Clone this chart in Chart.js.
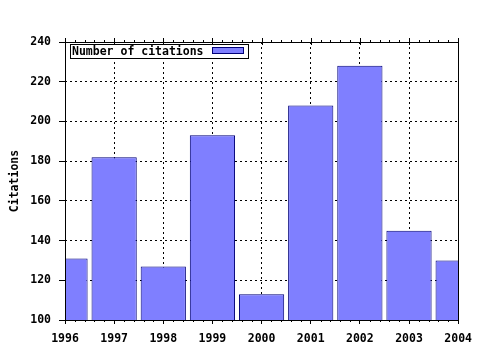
<!DOCTYPE html>
<html>
<head>
<meta charset="utf-8">
<script src="https://cdn.jsdelivr.net/npm/chart.js@4/dist/chart.umd.min.js"></script>
<style>
html,body{margin:0;padding:0;background:#fff;}
#wrap{width:480px;height:350px;}
</style>
</head>
<body>
<div id="wrap"><canvas id="chart" width="480" height="350"></canvas></div>
<script>
// data
const years = [1996, 1997, 1998, 1999, 2000, 2001, 2002, 2003, 2004];
const citations = [131, 182, 127, 193, 113, 208, 228, 145, 130];
const yTicks = [100, 120, 140, 160, 180, 200, 220, 240];
const seriesLabel = 'Number of citations';

const FONT = {family: '"DejaVu Sans Mono", monospace', size: 11.5, weight: 'bold'};
const fill = '#7f7fff', edge = '#000078';

// frame, minor ticks, top ticks and the boxed legend
const decor = {
  id: 'decor',
  afterDatasetsDraw(chart) {
    const ctx = chart.ctx, a = chart.chartArea;
    const xs = chart.scales.x;
    ctx.save();
    ctx.strokeStyle = '#000';
    ctx.lineWidth = 1;
    ctx.setLineDash([]);
    ctx.strokeRect(Math.round(a.left) + 0.5, Math.round(a.top) + 0.5,
      Math.round(a.right - a.left), Math.round(a.bottom - a.top));
    ctx.beginPath();
    for (let i = 0; i < years.length; i++) {
      const px = Math.round(xs.getPixelForValue(years[i])) + 0.5;
      ctx.moveTo(px, a.top - 4); ctx.lineTo(px, a.top + 3);
      if (i < years.length - 1) {
        for (let k = 1; k < 5; k++) {
          const mx = Math.round(xs.getPixelForValue(years[i] + k / 5)) + 0.5;
          ctx.moveTo(mx, a.top - 2); ctx.lineTo(mx, a.top);
          ctx.moveTo(mx, a.bottom); ctx.lineTo(mx, a.bottom + 2);
        }
      }
    }
    ctx.stroke();
    // legend box
    const lx = 70.5, ly = 44.5, lw = 178, lh = 14;
    ctx.fillStyle = '#fff';
    ctx.fillRect(lx, ly, lw, lh);
    ctx.strokeRect(lx, ly, lw, lh);
    ctx.fillStyle = '#000';
    ctx.font = `${FONT.weight} ${FONT.size}px ${FONT.family}`;
    ctx.textBaseline = 'middle';
    ctx.fillText(chart.data.datasets[0].label, 72, ly + lh / 2 + 0.5);
    ctx.fillStyle = fill;
    ctx.fillRect(212.5, 47.5, 31, 6);
    ctx.strokeStyle = edge;
    ctx.strokeRect(212.5, 47.5, 31, 6);
    ctx.restore();
  }
};

new Chart(document.getElementById('chart'), {
  type: 'bar',
  data: {
    datasets: [{
      label: seriesLabel,
      data: years.map((y, i) => ({x: y, y: citations[i]})),
      backgroundColor: fill,
      borderColor: edge,
      borderWidth: 1,
      borderSkipped: false,
      categoryPercentage: 1,
      barPercentage: 0.92
    }]
  },
  options: {
    responsive: false,
    animation: false,
    events: [],
    layout: {padding: {left: 0, right: 21, top: 42, bottom: 0}},
    plugins: {legend: {display: false}, tooltip: {enabled: false}},
    scales: {
      x: {
        type: 'linear',
        offset: false,
        min: years[0],
        max: years[years.length - 1],
        afterBuildTicks: s => { s.ticks = years.map(v => ({value: v})); },
        afterFit: s => { s.height = 30; },
        ticks: {color: '#000', font: FONT, padding: 8, maxRotation: 0, autoSkip: false,
          callback: v => String(v)},
        grid: {offset: false, color: '#000', lineWidth: 1, tickLength: 4, tickColor: '#000', tickBorderDash: []},
        border: {display: false, dash: [2, 3]}
      },
      y: {
        min: yTicks[0],
        max: yTicks[yTicks.length - 1],
        afterBuildTicks: s => { s.ticks = yTicks.map(v => ({value: v})); },
        afterFit: s => { s.width = 65; },
        ticks: {color: '#000', font: FONT, padding: 8},
        grid: {color: '#000', lineWidth: 1, tickLength: 6, tickColor: '#000', tickBorderDash: []},
        border: {display: false, dash: [2, 3]},
        title: {display: true, text: 'Citations', color: '#000', font: FONT, padding: {top: 8, bottom: 0}}
      }
    }
  },
  plugins: [decor]
});
</script>
</body>
</html>
